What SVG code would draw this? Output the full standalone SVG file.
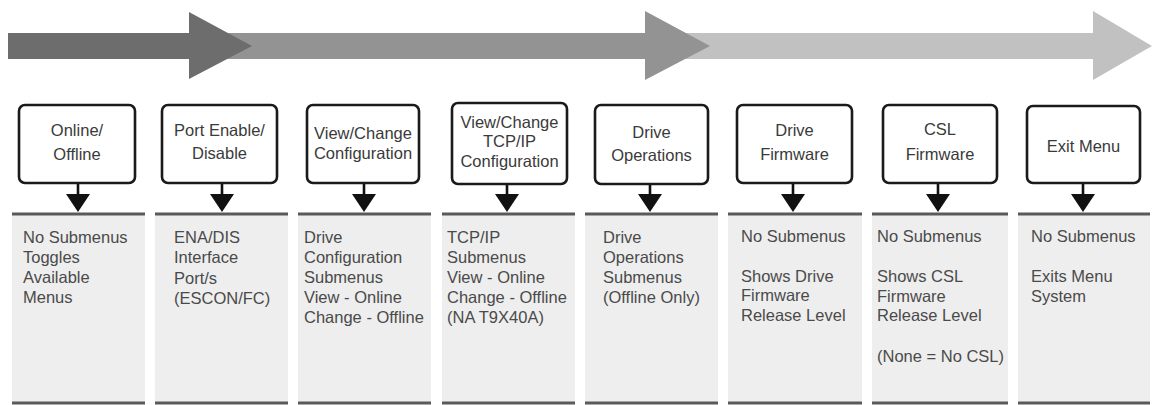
<svg xmlns="http://www.w3.org/2000/svg" width="1152" height="405" viewBox="0 0 1152 405">
<style>
.box{fill:#fff;stroke:#1a1a1a;stroke-width:2.6}
.bt{font-family:"Liberation Sans",Arial,sans-serif;font-size:16.5px;fill:#3a3a3a;text-anchor:middle}
.pt{font-family:"Liberation Sans",Arial,sans-serif;font-size:16.5px;fill:#4a4a4a}
.panel{fill:#eeeeee}
.rule{stroke:#5a5a5a;stroke-width:3}
.conn{stroke:#111;stroke-width:2.6;fill:none}
.head{fill:#111}
</style>
<g id="timeline">
<polygon fill="#c1c1c1" points="640,33 1093,33 1093,11 1152,46 1093,80 1093,59 640,59"/>
<polygon fill="#939393" points="185,33 645,33 645,11 710,46 645,80 645,59 185,59"/>
<polygon fill="#6d6d6d" points="8,33 189,33 189,12 252,46 189,79 189,59 8,59"/>
</g>
<g id="panels">
<rect class="panel" x="12" y="214" width="133" height="189"/>
<rect class="panel" x="155" y="214" width="133" height="189"/>
<rect class="panel" x="298" y="214" width="133" height="189"/>
<rect class="panel" x="442" y="214" width="133" height="189"/>
<rect class="panel" x="585" y="214" width="133" height="189"/>
<rect class="panel" x="728" y="214" width="134" height="189"/>
<rect class="panel" x="872" y="214" width="136" height="189"/>
<rect class="panel" x="1018" y="214" width="132" height="189"/>
<path class="rule" d="M12,214H145M155,214H288M298,214H431M442,214H575M585,214H718M728,214H862M872,214H1008M1018,214H1150"/>
<path class="rule" d="M12,403H145M155,403H288M298,403H431M442,403H575M585,403H718M728,403H862M872,403H1008M1018,403H1150"/>
</g>
<g id="connectors">
<path class="conn" d="M78,183V196M222,183V196M364,183V196M507,184V196M650,184V196M793,183V196M938,183V196M1083,183V196"/>
<polygon class="head" points="66,194 90,194 78,212"/>
<polygon class="head" points="210,194 234,194 222,212"/>
<polygon class="head" points="352,194 376,194 364,212"/>
<polygon class="head" points="495,194 519,194 507,212"/>
<polygon class="head" points="638,194 662,194 650,212"/>
<polygon class="head" points="781,194 805,194 793,212"/>
<polygon class="head" points="926,194 950,194 938,212"/>
<polygon class="head" points="1071,194 1095,194 1083,212"/>
</g>
<g id="n1">
<rect class="box" x="19" y="105" width="116" height="78" rx="6"/>
<text class="bt" x="77" y="136">Online/</text>
<text class="bt" x="77" y="160">Offline</text>
<text class="pt" x="23" y="243">No Submenus</text>
<text class="pt" x="23" y="263">Toggles</text>
<text class="pt" x="23" y="283">Available</text>
<text class="pt" x="23" y="303">Menus</text>
</g>
<g id="n2">
<rect class="box" x="162" y="105" width="115" height="78" rx="6"/>
<text class="bt" x="219.5" y="136">Port Enable/</text>
<text class="bt" x="219.5" y="159">Disable</text>
<text class="pt" x="174" y="243">ENA/DIS</text>
<text class="pt" x="174" y="263">Interface</text>
<text class="pt" x="174" y="284">Port/s</text>
<text class="pt" x="174" y="304">(ESCON/FC)</text>
</g>
<g id="n3">
<rect class="box" x="307" y="105" width="112" height="78" rx="6"/>
<text class="bt" x="363" y="139">View/Change</text>
<text class="bt" x="363" y="159">Configuration</text>
<text class="pt" x="304" y="243">Drive</text>
<text class="pt" x="304" y="263">Configuration</text>
<text class="pt" x="304" y="283">Submenus</text>
<text class="pt" x="304" y="303">View - Online</text>
<text class="pt" x="304" y="323">Change - Offline</text>
</g>
<g id="n4">
<rect class="box" x="452" y="103" width="115" height="81" rx="6"/>
<text class="bt" x="509.5" y="128">View/Change</text>
<text class="bt" x="509.5" y="147">TCP/IP</text>
<text class="bt" x="509.5" y="167">Configuration</text>
<text class="pt" x="447" y="243">TCP/IP</text>
<text class="pt" x="447" y="263">Submenus</text>
<text class="pt" x="447" y="283">View - Online</text>
<text class="pt" x="447" y="303">Change - Offline</text>
<text class="pt" x="447" y="323">(NA T9X40A)</text>
</g>
<g id="n5">
<rect class="box" x="595" y="105" width="113" height="79" rx="6"/>
<text class="bt" x="651.5" y="138">Drive</text>
<text class="bt" x="651.5" y="161">Operations</text>
<text class="pt" x="603" y="243">Drive</text>
<text class="pt" x="603" y="263">Operations</text>
<text class="pt" x="603" y="283">Submenus</text>
<text class="pt" x="603" y="303">(Offline Only)</text>
</g>
<g id="n6">
<rect class="box" x="737" y="105" width="115" height="78" rx="6"/>
<text class="bt" x="794.5" y="136">Drive</text>
<text class="bt" x="794.5" y="160">Firmware</text>
<text class="pt" x="741" y="242">No Submenus</text>
<text class="pt" x="741" y="282">Shows Drive</text>
<text class="pt" x="741" y="301">Firmware</text>
<text class="pt" x="741" y="321">Release Level</text>
</g>
<g id="n7">
<rect class="box" x="883" y="105" width="114" height="78" rx="6"/>
<text class="bt" x="940" y="135">CSL</text>
<text class="bt" x="940" y="160">Firmware</text>
<text class="pt" x="877" y="242">No Submenus</text>
<text class="pt" x="877" y="282">Shows CSL</text>
<text class="pt" x="877" y="302">Firmware</text>
<text class="pt" x="877" y="321">Release Level</text>
<text class="pt" x="877" y="362">(None = No CSL)</text>
</g>
<g id="n8">
<rect class="box" x="1027" y="106" width="113" height="77" rx="6"/>
<text class="bt" x="1083.5" y="152">Exit Menu</text>
<text class="pt" x="1031" y="242">No Submenus</text>
<text class="pt" x="1031" y="282">Exits Menu</text>
<text class="pt" x="1031" y="302">System</text>
</g>
</svg>
